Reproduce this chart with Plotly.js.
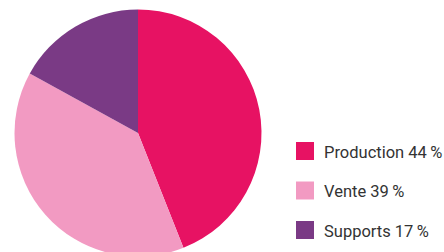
<!DOCTYPE html>
<html><head><meta charset="utf-8">
<script src="https://cdn.plot.ly/plotly-3.0.1.min.js"></script>
<style>html,body{margin:0;padding:0;overflow:hidden;background:#fff;width:444px;height:252px}</style>
</head><body><div id="c" style="width:444px;height:266px"></div>
<script>
const labels = ["Production", "Vente", "Supports"];
const values = [44, 39, 17];
const colors = ["#E71263", "#F29AC2", "#7A3A85"];

const W = 444, H = 266;
const shapes = [], annotations = [];
const legX = 296, legY0 = 151, legGap = 39.5, sq = 18;
labels.forEach((l, i) => {
  const cy = legY0 + i * legGap;
  shapes.push({type: "rect", xref: "paper", yref: "paper",
    x0: legX / W, x1: (legX + sq) / W,
    y0: 1 - (cy + sq / 2) / H, y1: 1 - (cy - sq / 2) / H,
    fillcolor: colors[i], line: {width: 0}});
  annotations.push({xref: "paper", yref: "paper", x: 322 / W, y: 1 - (cy + 1) / H,
    xanchor: "left", yanchor: "middle", showarrow: false,
    text: l + " " + values[i] + "\u2009%",
    font: {family: "Roboto", size: 16.5, color: "#333"}});
});

Plotly.newPlot("c", [{
  type: "pie", labels: labels, values: values,
  marker: {colors: colors, line: {width: 0}},
  sort: false, direction: "clockwise", rotation: 0,
  textinfo: "none", hoverinfo: "none",
  domain: {x: [14.5 / W, 261.5 / W], y: [1 - 256.5 / H, 1 - 9.5 / H]}
}], {
  width: W, height: H, margin: {l: 0, r: 0, t: 0, b: 0},
  showlegend: false, paper_bgcolor: "#fff",
  shapes: shapes, annotations: annotations
}, {staticPlot: true});
</script></body></html>
